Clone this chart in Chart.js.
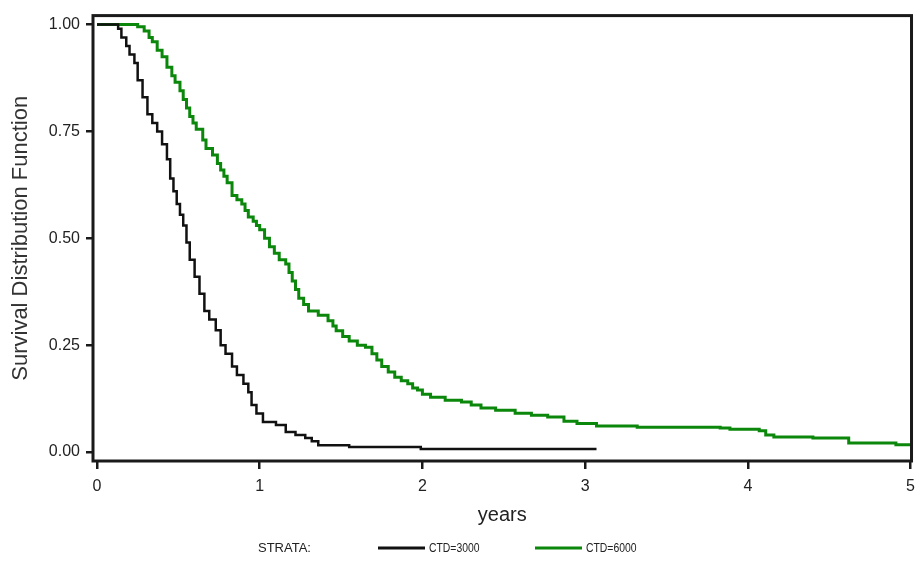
<!DOCTYPE html>
<html>
<head>
<meta charset="utf-8">
<script src="https://cdn.jsdelivr.net/npm/chart.js@4/dist/chart.umd.min.js"></script>
<style>
  html, body { margin: 0; padding: 0; background: #fff; }
  #wrap { width: 923px; height: 565px; }
</style>
</head>
<body>
<div id="wrap"><canvas id="km"></canvas></div>
<script>
// Kaplan-Meier estimates (years, survival)
const ctd3000Years = [0, 0.13, 0.15, 0.18, 0.20, 0.23, 0.25, 0.28, 0.31, 0.34, 0.37, 0.40, 0.43, 0.45, 0.47, 0.49,
  0.51, 0.53, 0.55, 0.57, 0.60, 0.63, 0.66, 0.69, 0.73, 0.76, 0.79, 0.83, 0.86, 0.90, 0.93, 0.95, 0.98,
  1.02, 1.10, 1.16, 1.22, 1.28, 1.32, 1.36, 1.55, 1.99, 3.07];
const ctd3000Surv = [1.0, 0.99, 0.97, 0.95, 0.93, 0.91, 0.87, 0.83, 0.79, 0.77, 0.75, 0.72, 0.685, 0.64, 0.61, 0.58,
  0.555, 0.53, 0.49, 0.45, 0.41, 0.37, 0.33, 0.31, 0.285, 0.25, 0.23, 0.20, 0.18, 0.16, 0.14, 0.11, 0.09,
  0.07, 0.063, 0.047, 0.04, 0.033, 0.025, 0.016, 0.012, 0.007, 0.007];

const ctd6000Years = [0, 0.25, 0.29, 0.32, 0.34, 0.37, 0.40, 0.43, 0.46, 0.48, 0.51, 0.53, 0.55, 0.57, 0.59, 0.61,
  0.65, 0.67, 0.71, 0.74, 0.76, 0.78, 0.80, 0.83, 0.86, 0.89, 0.91, 0.93, 0.96, 0.98, 1.00, 1.03, 1.06,
  1.09, 1.12, 1.16, 1.18, 1.20, 1.22, 1.24, 1.27, 1.30, 1.36, 1.42, 1.45, 1.47, 1.51, 1.55, 1.60, 1.65,
  1.69, 1.72, 1.75, 1.79, 1.83, 1.87, 1.91, 1.94, 1.97, 2.00, 2.05, 2.14, 2.24, 2.30, 2.36, 2.45, 2.57,
  2.67, 2.77, 2.87, 2.95, 3.07, 3.32, 3.83, 3.89, 4.07, 4.11, 4.16, 4.40, 4.62, 4.91, 5.0];
const ctd6000Surv = [1.0, 0.995, 0.985, 0.97, 0.96, 0.94, 0.925, 0.90, 0.88, 0.865, 0.845, 0.825, 0.805, 0.785, 0.77, 0.755,
  0.73, 0.71, 0.695, 0.675, 0.66, 0.645, 0.63, 0.60, 0.59, 0.58, 0.565, 0.55, 0.54, 0.53, 0.52, 0.50, 0.48,
  0.465, 0.45, 0.44, 0.42, 0.40, 0.38, 0.36, 0.345, 0.33, 0.32, 0.307, 0.295, 0.284, 0.27, 0.26, 0.25, 0.245,
  0.23, 0.215, 0.20, 0.187, 0.175, 0.167, 0.16, 0.15, 0.145, 0.135, 0.128, 0.121, 0.117, 0.11, 0.103, 0.098, 0.091,
  0.086, 0.082, 0.072, 0.067, 0.061, 0.058, 0.056, 0.053, 0.05, 0.04, 0.035, 0.033, 0.021, 0.017, 0.017];

const strataLabels = ['CTD=3000', 'CTD=6000'];
const xTickValues = [0, 1, 2, 3, 4, 5];
const yTickValues = [0, 0.25, 0.5, 0.75, 1.0];

const FONT = "'Liberation Sans', Arial, sans-serif";

function toPoints(xs, ys) {
    return xs.map((x, i) => ({ x: x, y: ys[i] }));
}

// frame around the plot area
const framePlugin = {
    id: 'frame',
    afterDatasetsDraw(chart) {
        const { ctx, chartArea: a } = chart;
        ctx.save();
        ctx.strokeStyle = '#1a1a1a';
        ctx.lineWidth = 3;
        ctx.strokeRect(a.left, a.top, a.right - a.left, a.bottom - a.top);
        ctx.restore();
    }
};

// SAS style legend: "STRATA:" followed by line samples
const strataLegend = {
    id: 'strataLegend',
    afterDraw(chart) {
        const ctx = chart.ctx;
        const y = 548;
        let x = 258;
        ctx.save();
        ctx.textBaseline = 'middle';
        ctx.fillStyle = '#222';
        ctx.font = '13px ' + FONT;
        ctx.fillText('STRATA:', x, y);
        x = 378;
        chart.data.datasets.forEach(ds => {
            ctx.strokeStyle = ds.borderColor;
            ctx.lineWidth = 3;
            ctx.beginPath();
            ctx.moveTo(x, y);
            ctx.lineTo(x + 47, y);
            ctx.stroke();
            // condensed label, as in the original
            ctx.save();
            ctx.translate(x + 51, y);
            ctx.scale(0.8, 1);
            ctx.font = '13px ' + FONT;
            ctx.fillStyle = '#222';
            ctx.fillText(ds.label, 0, 0);
            ctx.restore();
            x += 157;
        });
        ctx.restore();
    }
};

new Chart(document.getElementById('km'), {
    type: 'line',
    data: {
        datasets: [{
            label: strataLabels[0],
            data: toPoints(ctd3000Years, ctd3000Surv),
            borderColor: '#111111',
            borderWidth: 2.5,
            stepped: true,
            pointRadius: 0,
            fill: false
        }, {
            label: strataLabels[1],
            data: toPoints(ctd6000Years, ctd6000Surv),
            borderColor: '#0b870b',
            borderWidth: 3,
            stepped: true,
            pointRadius: 0,
            fill: false
        }]
    },
    options: {
        responsive: true,
        maintainAspectRatio: false,
        animation: false,
        layout: { padding: { top: 14, right: 7, left: 0, bottom: 0 } },
        plugins: {
            legend: { display: false },
            tooltip: { enabled: false }
        },
        scales: {
            x: {
                type: 'linear',
                min: -0.0245,
                max: 5.006,
                afterBuildTicks: axis => { axis.ticks = xTickValues.map(v => ({ value: v })); },
                afterFit: axis => { axis.height = 104; },
                border: { display: false },
                grid: { drawOnChartArea: false, drawTicks: true, tickLength: 8, color: '#1a1a1a', lineWidth: 2.5 },
                ticks: {
                    color: '#222',
                    font: { family: FONT, size: 16 },
                    padding: 8,
                    maxRotation: 0,
                    callback: v => String(v)
                },
                title: {
                    display: true,
                    text: 'years',
                    color: '#222',
                    font: { family: FONT, size: 20 },
                    padding: { top: 0, bottom: 38 }
                }
            },
            y: {
                type: 'linear',
                min: -0.021,
                max: 1.021,
                afterBuildTicks: axis => { axis.ticks = yTickValues.map(v => ({ value: v })); },
                afterFit: axis => { axis.width = 93; },
                border: { display: false },
                grid: { drawOnChartArea: false, drawTicks: true, tickLength: 7, color: '#1a1a1a', lineWidth: 2.5 },
                ticks: {
                    color: '#222',
                    font: { family: FONT, size: 16 },
                    padding: 6,
                    callback: v => v.toFixed(2)
                },
                title: {
                    display: true,
                    text: 'Survival Distribution Function',
                    color: '#333',
                    font: { family: FONT, size: 22 },
                    padding: { top: 8, bottom: 0 }
                }
            }
        }
    },
    plugins: [framePlugin, strataLegend]
});
</script>
</body>
</html>
